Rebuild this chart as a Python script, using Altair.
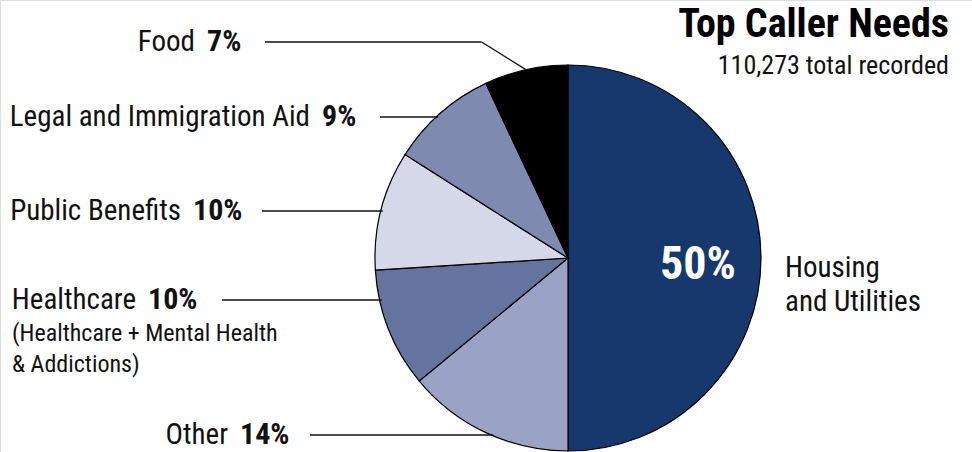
import altair as alt
import pandas as pd
import math

# ---- data ----
categories = ["Housing and Utilities", "Other", "Healthcare", "Public Benefits",
              "Legal and Immigration Aid", "Food"]
shares = [50, 14, 10, 10, 9, 7]
colors = ["#16386d", "#9aa3c5", "#65739f", "#d4d8e8", "#7e8ab0", "#000000"]
short_names = ["Housing", "Other", "Healthcare", "Public Benefits",
               "Legal and Immigration Aid", "Food"]
pct_labels = [f"{v}%" for v in shares]
title = "Top Caller Needs"
subtitle = "110,273 total recorded"
note_lines = ["(Healthcare + Mental Health", "& Addictions)"]

# ---- layout ----
CX, CY, R = 568, 258, 193
W, H = 972, 452
FONT = "'Roboto Condensed', 'DejaVu Sans Condensed', 'Liberation Sans Narrow', 'Arial Narrow', sans-serif"

pie_df = pd.DataFrame({"cat": categories, "share": shares, "ord": list(range(len(categories)))})
pie = alt.Chart(pie_df).mark_arc(outerRadius=R, stroke="#000000", strokeWidth=1.2).encode(
    theta=alt.Theta("share:Q", stack=True),
    order=alt.Order("ord:Q"),
    color=alt.Color("cat:N", scale=alt.Scale(domain=categories, range=colors), legend=None),
    x=alt.value(CX), y=alt.value(CY),
)

lay = {
    "Food": (42, 207, 265),
    "Legal and Immigration Aid": (117, 322, 380),
    "Public Benefits": (211, 193, 262),
    "Healthcare": (300, 148, 222),
    "Other": (435, 240, 310),
}
rows = []
for i, name in enumerate(short_names):
    if name not in lay:
        continue
    ly, px, lx = lay[name]
    rows.append({"name": name, "pct": pct_labels[i], "y": ly, "px": px, "nx": px - 12, "lx": lx})
lab = pd.DataFrame(rows)

names = alt.Chart(lab).mark_text(align="right", baseline="middle", font=FONT, fontSize=29,
                                 color="#111111").encode(
    x=alt.X("nx:Q", scale=None), y=alt.Y("y:Q", scale=None), text="name:N")
pcts = alt.Chart(lab).mark_text(align="left", baseline="middle", font=FONT, fontSize=30,
                                fontWeight="bold", color="#111111").encode(
    x=alt.X("px:Q", scale=None), y=alt.Y("y:Q", scale=None), text="pct:N")

segs = []
cum = 0
mids = {}
for name, v in zip(short_names, shares):
    mids[name] = (cum + v / 2) / 100 * 2 * math.pi
    cum += v
for r in rows:
    name, ly, lx = r["name"], r["y"], r["lx"]
    if name == "Food":
        a = mids[name]
        ex, ey = CX + R * math.sin(a), CY - R * math.cos(a)
        bx = ex - (ey - ly) * 1.6
        segs.append({"x": lx, "y": ly, "x2": bx, "y2": ly})
        segs.append({"x": bx, "y": ly, "x2": ex, "y2": ey})
    else:
        dx = math.sqrt(max(R * R - (ly - CY) ** 2, 0))
        segs.append({"x": lx, "y": ly, "x2": CX - dx + 2, "y2": ly})
seg_df = pd.DataFrame(segs)
leaders = alt.Chart(seg_df).mark_rule(color="#111111", strokeWidth=1.3).encode(
    x=alt.X("x:Q", scale=None), y=alt.Y("y:Q", scale=None),
    x2="x2:Q", y2="y2:Q")

note_df = pd.DataFrame({"t": note_lines, "y": [334, 365]})
note = alt.Chart(note_df).mark_text(align="left", baseline="middle", font=FONT, fontSize=24,
                                    color="#111111").encode(
    x=alt.value(12), y=alt.Y("y:Q", scale=None), text="t:N")

big_df = pd.DataFrame({"t": [pct_labels[0]]})
big = alt.Chart(big_df).mark_text(align="center", baseline="middle", font=FONT, fontSize=46,
                                  fontWeight="bold", color="#ffffff").encode(
    x=alt.value(698), y=alt.value(265), text="t:N")

house_df = pd.DataFrame({"t": ["Housing", "and Utilities"], "y": [268, 302]})
house = alt.Chart(house_df).mark_text(align="left", baseline="middle", font=FONT, fontSize=29,
                                      color="#111111").encode(
    x=alt.value(785), y=alt.Y("y:Q", scale=None), text="t:N")

ttl_df = pd.DataFrame({"t": [title, subtitle], "y": [25, 66]})
ttl1 = alt.Chart(ttl_df.iloc[[0]]).mark_text(align="right", baseline="middle", font=FONT, fontSize=40,
                                            fontWeight="bold", color="#000000").encode(
    x=alt.value(949), y=alt.Y("y:Q", scale=None), text="t:N")
ttl2 = alt.Chart(ttl_df.iloc[[1]]).mark_text(align="right", baseline="middle", font=FONT, fontSize=26,
                                            color="#111111").encode(
    x=alt.value(949), y=alt.Y("y:Q", scale=None), text="t:N")

chart = alt.layer(pie, leaders, names, pcts, note, big, house, ttl1, ttl2).properties(
    width=W, height=H, padding=0, autosize=alt.AutoSizeParams(type="none")
).configure_view(stroke=None).configure(background="#ffffff")

chart.save("out.html", embed_options={"renderer": "svg", "actions": False})
